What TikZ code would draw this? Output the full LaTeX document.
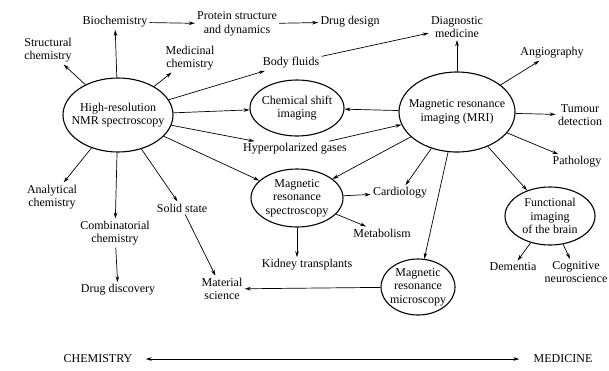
\documentclass[tikz,border=0pt]{standalone}
\usepackage{fontspec}
\setmainfont{Liberation Serif}
\usetikzlibrary{shapes.geometric,arrows.meta}

\begin{document}
\begin{tikzpicture}[x=1pt, y=-1pt, line width=0.7pt, >={Stealth[length=6pt,width=3.6pt]},
    main/.style = {draw, ellipse, line width=1.1pt, align=center, inner xsep=-8pt, inner ysep=-2pt, font=\fontsize{12}{13.5}\selectfont},
    lbl/.style = {align=center, inner sep=2pt, font=\fontsize{12}{13.5}\selectfont}]
    \useasboundingbox (0,0) rectangle (609,370);

    \node[main, minimum width=110pt, minimum height=74pt] (nmr) at (118,115) {High-resolution\\NMR spectroscopy};
    \node[main, minimum width=94pt, minimum height=56pt] (csi) at (297,108) {Chemical shift\\imaging};
    \node[main, minimum width=116pt, minimum height=80pt] (mri) at (457,112) {Magnetic resonance\\imaging (MRI)};
    \node[main, minimum width=92pt, minimum height=58pt] (mrs) at (297,198) {Magnetic\\resonance\\spectroscopy};
    \node[main, minimum width=90pt, minimum height=58pt] (fib) at (550,216) {Functional\\imaging\\of the brain};
    \node[main, minimum width=74pt, minimum height=56pt] (mrm) at (418,287) {Magnetic\\resonance\\microscopy};

    \node[lbl] (bio) at (115,22) {Biochemistry};
    \node[lbl] (psd) at (237,24) {Protein structure\\and dynamics};
    \node[lbl] (dd) at (350,22) {Drug design};
    \node[lbl] (diag) at (457,27) {Diagnostic\\medicine};
    \node[lbl] (sc) at (48,50) {Structural\\chemistry};
    \node[lbl] (mc) at (190,58) {Medicinal\\chemistry};
    \node[lbl] (bf) at (291,63) {Body fluids};
    \node[lbl] (ang) at (552,53) {Angiography};
    \node[lbl] (tum) at (580,115) {Tumour\\detection};
    \node[lbl] (hg) at (295,149) {Hyperpolarized gases};
    \node[lbl] (path) at (577,162) {Pathology};
    \node[lbl] (card) at (400,193) {Cardiology};
    \node[lbl] (met) at (382,233) {Metabolism};
    \node[lbl] (ac) at (52,197) {Analytical\\chemistry};
    \node[lbl] (ss) at (182,208) {Solid state};
    \node[lbl] (comb) at (115,233) {Combinatorial\\chemistry};
    \node[lbl] (kid) at (307,265) {Kidney transplants};
    \node[lbl] (dem) at (513,267) {Dementia};
    \node[lbl] (cog) at (576,272) {Cognitive\\neuroscience};
    \node[lbl] (dmd) at (118,290) {Drug discovery};
    \node[lbl] (ms) at (222,289) {Material\\science};
    \node[lbl] (chem) at (98,359) {CHEMISTRY};
    \node[lbl] (med) at (563,359) {MEDICINE};

    \draw[->] (nmr) -- (bio);
    \draw[->] (bio) -- (psd);
    \draw[->] (psd) -- (dd);
    \draw[->] (nmr) -- (sc);
    \draw[->] (nmr) -- (mc);
    \draw[->] (nmr) -- (bf);
    \draw[->] (bf) -- (diag);
    \draw[->] (nmr) -- (csi);
    \draw[->] (nmr) -- (hg);
    \draw[->] (nmr) -- (mrs);
    \draw[->] (nmr) -- (ac);
    \draw[->] (nmr) -- (comb);
    \draw[->] (comb) -- (dmd);
    \draw[->] (nmr) -- (ss);
    \draw[->] (ss) -- (ms);

    \draw[->] (mri) -- (csi);
    \draw[->] (hg) -- (mri);
    \draw[->] (mri) -- (mrs);
    \draw[->] (mri) -- (card);
    \draw[->] (mri) -- (diag);
    \draw[->] (mri) -- (ang);
    \draw[->] (mri) -- (tum);
    \draw[->] (mri) -- (path);
    \draw[->] (mri) -- (fib);
    \draw[->] (mri) -- (mrm);

    \draw[->] (mrs) -- (card);
    \draw[->] (mrs) -- (met);
    \draw[->] (mrs.south) -- (kid.north -| mrs.south);
    \draw[->] (fib) -- (dem);
    \draw[->] (fib) -- (cog);
    \draw[->] (mrm) -- (ms);

    \draw[<->, shorten <=11pt, shorten >=12pt] (chem) -- (med);
\end{tikzpicture}
\end{document}
